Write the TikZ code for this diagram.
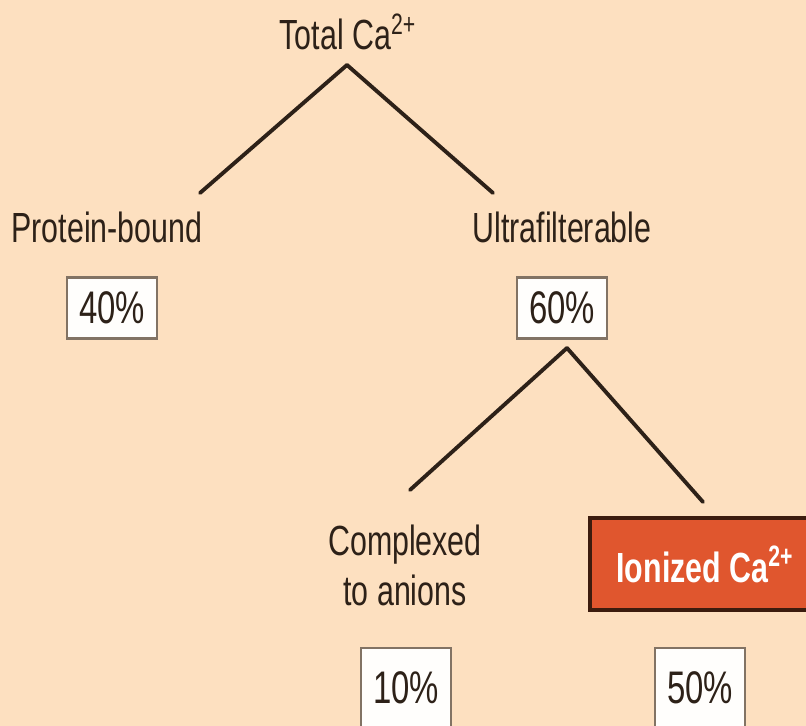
\documentclass[tikz,border=0pt]{standalone}
\usepackage{fontspec}
\setmainfont[FakeStretch=0.72]{Liberation Sans}
\usetikzlibrary{shapes,arrows}
\definecolor{peach}{RGB}{253,224,192}
\definecolor{ink}{RGB}{45,33,24}
\definecolor{boxline}{RGB}{130,115,100}
\definecolor{ionred}{RGB}{224,86,46}
\definecolor{ionedge}{RGB}{60,28,14}
\tikzstyle{term} = [text=ink, inner sep=0pt, font=\fontsize{24}{29}\selectfont, align=center]
\tikzstyle{pctbox} = [rectangle, draw=boxline, line width=1.6pt, fill=white!96!peach,
	text=ink, font=\fontsize{26}{30}\selectfont, minimum width=1.8cm, minimum height=1.22cm]
\tikzstyle{highlight} = [rectangle, draw=ionedge, line width=2.4pt, fill=ionred,
	text=white, font=\bfseries\fontsize{24}{28}\selectfont, minimum width=4.6cm, minimum height=1.84cm]
\tikzstyle{link} = [draw=ink, line width=2.2pt, line cap=round]

\begin{document}
\begin{tikzpicture}[x=0.02cm, y=-0.02cm]
	\fill [peach] (0,0) rectangle (806,726);
	\useasboundingbox (0,0) rectangle (806,726);
	% Place nodes
	\node [term, anchor=base] (total) at (348,50) {Total Ca\textsuperscript{2+}};
	\node [term, anchor=base] (protein) at (107,243) {Protein-bound};
	\node [term, anchor=base] (ultra) at (562,243) {Ultrafilterable};
	\node [pctbox] (p40) at (112,308) {40\%};
	\node [pctbox] (p60) at (562,308) {60\%};
	\node [term, anchor=base] (complexed) at (405,606) {Complexed\\to anions};
	\node [highlight] (ionized) at (705,564) {Ionized Ca\textsuperscript{2+}};
	\node [pctbox, minimum height=1.6cm] (p10) at (406,688) {10\%};
	\node [pctbox, minimum height=1.6cm] (p50) at (700,688) {50\%};
	\coordinate (fork1) at (347,65);
	\coordinate (fork2) at (567,348);
	\coordinate (protein end) at (200,193);
	\coordinate (ultra end) at (493,193);
	\coordinate (complexed end) at (410,490);
	\coordinate (ionized end) at (703,502);
	% Draw edges
	\path [link] (fork1) -- (protein end);
	\path [link] (fork1) -- (ultra end);
	\path [link] (fork2) -- (complexed end);
	\path [link] (fork2) -- (ionized end);
\end{tikzpicture}
\end{document}
